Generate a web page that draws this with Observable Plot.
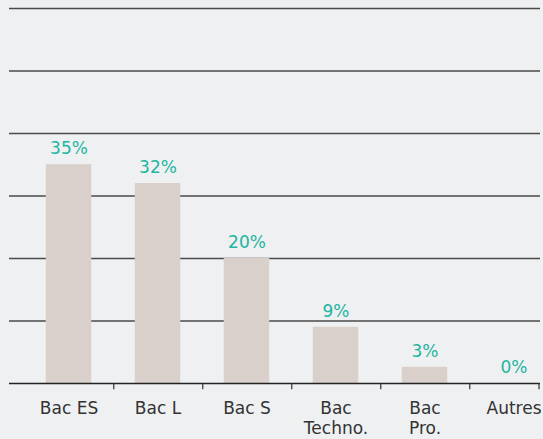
<!DOCTYPE html>
<html>
<head>
<meta charset="utf-8">
<script src="https://cdn.jsdelivr.net/npm/d3@7"></script>
<script src="https://cdn.jsdelivr.net/npm/@observablehq/plot@0.6"></script>
<style>
  html, body { margin: 0; padding: 0; background: #eff0f2; }
  #chart svg { display: block; background: #eff0f2; }
</style>
</head>
<body>
<div id="chart"></div>
<script>
const categories = ["Bac ES", "Bac L", "Bac S", "Bac\nTechno.", "Bac\nPro.", "Autres"];
const values = [35, 32, 20, 9, 2.6, 0];
const valueLabels = ["35%", "32%", "20%", "9%", "3%", "0%"];
const gridValues = [10, 20, 30, 40, 50, 60];

const data = categories.map((c, i) => ({cat: c, value: values[i], label: valueLabels[i]}));
const tickCats = categories.slice(0, 5);
const lastCat = categories.slice(5);

const font = "'DejaVu Sans', sans-serif";

const chart = Plot.plot({
  width: 543,
  height: 439,
  marginTop: 8,
  marginBottom: 56,
  marginLeft: 9,
  marginRight: 3,
  style: {background: "#eff0f2", fontFamily: font},
  x: {domain: categories, range: [22, 559], padding: 0, axis: null},
  y: {domain: [0, 60], axis: null},
  marks: [
    Plot.ruleY(gridValues, {stroke: "#4a4a4a", strokeWidth: 1.3}),
    Plot.barY(data, {x: "cat", y: "value", fill: "#d9d0cb", insetLeft: 21.75, insetRight: 21.75}),
    Plot.ruleY([0], {stroke: "#222", strokeWidth: 1.5}),
    Plot.ruleX(tickCats, {x: d => d, dx: 44.75, y1: 0, y2: -1, stroke: "#333", strokeWidth: 1.2}),
    Plot.ruleX(lastCat, {x: d => d, dx: 25, y1: 0, y2: -1, stroke: "#333", strokeWidth: 1.2}),
    Plot.text(data, {x: "cat", y: "value", text: "label", dy: -16, fill: "#1eb5a1", fontSize: 17, fontFamily: font}),
    Plot.text(data, {x: "cat", y: 0, text: "cat", lineAnchor: "top", dy: 16, fill: "#333", fontSize: 17, lineHeight: 1.18, fontFamily: font})
  ]
});
document.getElementById("chart").appendChild(chart);
</script>
</body>
</html>
